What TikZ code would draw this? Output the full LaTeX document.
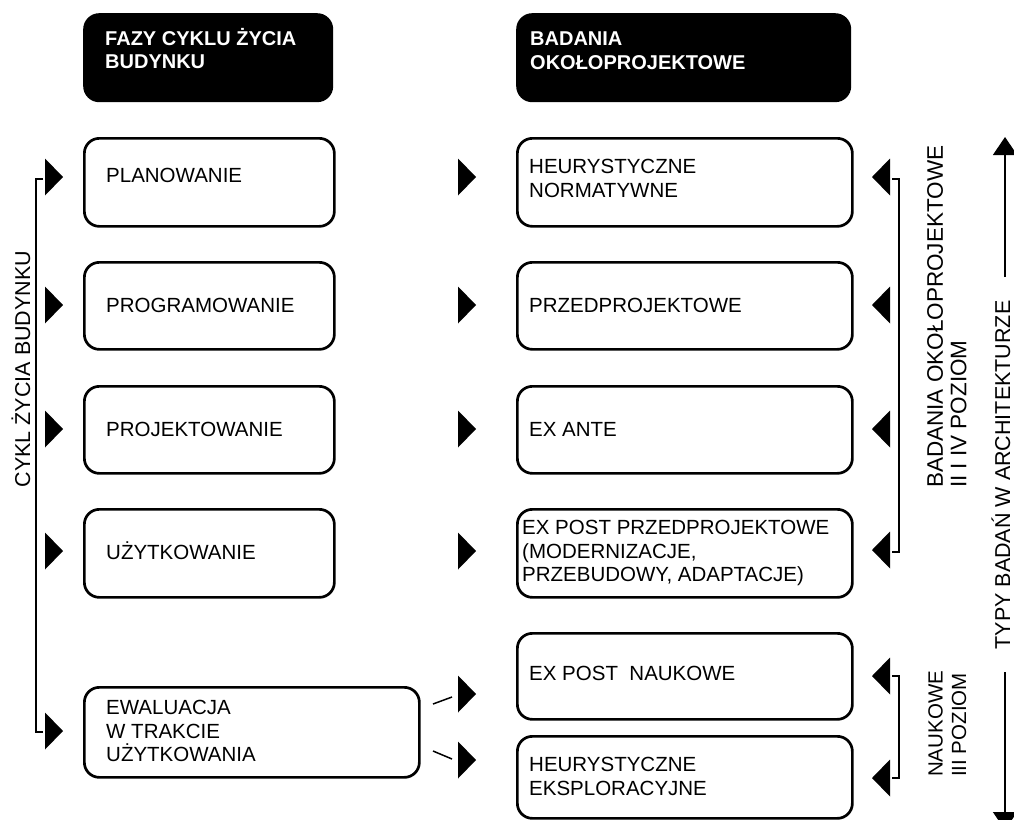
\documentclass[tikz,border=0pt]{standalone}
\usepackage{fontspec}
\setmainfont{Liberation Sans}
\usetikzlibrary{arrows.meta}
\begin{document}
\begin{tikzpicture}[x=1pt,y=-1pt,
  phase/.style={draw=black,line width=2.7pt,rounded corners=15pt,fill=white,inner sep=0pt,anchor=north west},
  head/.style={fill=black,rounded corners=16pt,inner sep=0pt,anchor=north west},
  txt/.style={font=\fontsize{20.5}{23.5}\selectfont,inner sep=0pt,align=left,text=black},
  side/.style={font=\fontsize{21.5}{23.5}\selectfont,inner sep=0pt,align=left,text=black},
  htxt/.style={font=\bfseries\fontsize{20}{23.5}\selectfont,inner sep=0pt,align=left,text=white},
  one/.style={text height=14.7pt,text depth=0pt},
  bracket/.style={draw=black,line width=1.5pt},
  rtri/.pic={\fill[black] (-9,-18.5) -- (9,0) -- (-9,18.5) -- cycle;},
  ltri/.pic={\fill[black] (9,-18.5) -- (-9,0) -- (9,18.5) -- cycle;}
]
\clip (0,0) rectangle (1014,819);
\fill[white] (0,0) rectangle (1014,819);

% column headers
\node[head,minimum width=250pt,minimum height=89pt] (hl) at (83,13) {};
\node[head,minimum width=335pt,minimum height=89pt] (hr) at (516,13) {};
\node[htxt,anchor=north west] (hlt) at (105,28) {FAZY CYKLU ŻYCIA\\BUDYNKU};
\node[htxt,anchor=north west] (hrt) at (530,32) {BADANIA\\OKOŁOPROJEKTOWE};

% phases of the building life cycle
\node[phase,minimum width=250pt,minimum height=88pt] (l1) at (83,137) {};
\node[phase,minimum width=250pt,minimum height=87pt] (l2) at (83,261) {};
\node[phase,minimum width=250pt,minimum height=87pt] (l3) at (83,385) {};
\node[phase,minimum width=250pt,minimum height=88pt] (l4) at (83,508) {};
\node[phase,minimum width=335pt,minimum height=90pt] (l5) at (83,686) {};

\node[txt,one,anchor=west] (l1t) at (106,175) {PLANOWANIE};
\node[txt,one,anchor=west] (l2t) at (106,305) {PROGRAMOWANIE};
\node[txt,one,anchor=west] (l3t) at (106,429) {PROJEKTOWANIE};
\node[txt,one,anchor=west] (l4t) at (106,552) {UŻYTKOWANIE};
\node[txt,anchor=north west] (l5t) at (106,700) {EWALUACJA\\W TRAKCIE\\UŻYTKOWANIA};

% research types
\node[phase,minimum width=335pt,minimum height=88pt] (r1) at (516,137) {};
\node[phase,minimum width=335pt,minimum height=87pt] (r2) at (516,261) {};
\node[phase,minimum width=335pt,minimum height=87pt] (r3) at (516,385) {};
\node[phase,minimum width=335pt,minimum height=88pt] (r4) at (516,508) {};
\node[phase,minimum width=335pt,minimum height=86pt] (r5) at (516,632) {};
\node[phase,minimum width=335pt,minimum height=82pt] (r6) at (516,735) {};

\node[txt,anchor=north west] (r1t) at (529,159) {HEURYSTYCZNE\\NORMATYWNE};
\node[txt,one,anchor=west] (r2t) at (529,305) {PRZEDPROJEKTOWE};
\node[txt,one,anchor=west] (r3t) at (529,429) {EX ANTE};
\node[txt,anchor=north west] (r4t) at (522,520) {EX POST PRZEDPROJEKTOWE\\(MODERNIZACJE,\\PRZEBUDOWY, ADAPTACJE)};
\node[txt,one,anchor=west] (r5t) at (529,673) {EX POST\ \ NAUKOWE};
\node[txt,anchor=north west] (r6t) at (529,757) {HEURYSTYCZNE\\EKSPLORACYJNE};

% arrowheads
\foreach \y in {177,305,429,551,731} \pic at (54,\y) {rtri};
\foreach \y in {177,305,429,551,694,760} \pic at (467,\y) {rtri};
\foreach \y in {177,305,429,550,676,778} \pic at (881,\y) {ltri};

% links from the evaluation phase
\coordinate (e1a) at (433,704); \coordinate (e1b) at (452,697);
\coordinate (e2a) at (433,751); \coordinate (e2b) at (452,759);
\draw[bracket] (e1a) -- (e1b);
\draw[bracket] (e2a) -- (e2b);

% brackets
\coordinate (bl1) at (43,179); \coordinate (bl2) at (43,732);
\draw[bracket] (bl1) -- ++(-7,0) |- (bl2);
\coordinate (br1) at (892,179); \coordinate (br2) at (892,552);
\draw[bracket] (br1) -- ++(7,0) |- (br2);
\coordinate (bn1) at (892,676); \coordinate (bn2) at (892,778);
\draw[bracket] (bn1) -- ++(7,0) |- (bn2);

% side labels
\node[side,rotate=90] (cyc) at (21,369) {CYKL ŻYCIA BUDYNKU};
\node[txt,font=\fontsize{22.5}{23.5}\selectfont,rotate=90,anchor=north west] (bad) at (927,488) {BADANIA OKOŁOPROJEKTOWE\\II I IV POZIOM};
\node[txt,rotate=90,anchor=north west] (nauk) at (928,777) {NAUKOWE\\III POZIOM};

% research-type axis
\coordinate (ax1) at (1005,277); \coordinate (ax1t) at (1005,137);
\coordinate (ax2) at (1005,672); \coordinate (ax2t) at (1005,830);
\draw[bracket,-{Triangle[width=24pt,length=18pt]}] (ax1) -- (ax1t);
\draw[bracket,-{Triangle[width=24pt,length=18pt]}] (ax2) -- (ax2t);
\node[side,rotate=90] (typy) at (1001,475) {TYPY BADAŃ W ARCHITEKTURZE};
\end{tikzpicture}
\end{document}
